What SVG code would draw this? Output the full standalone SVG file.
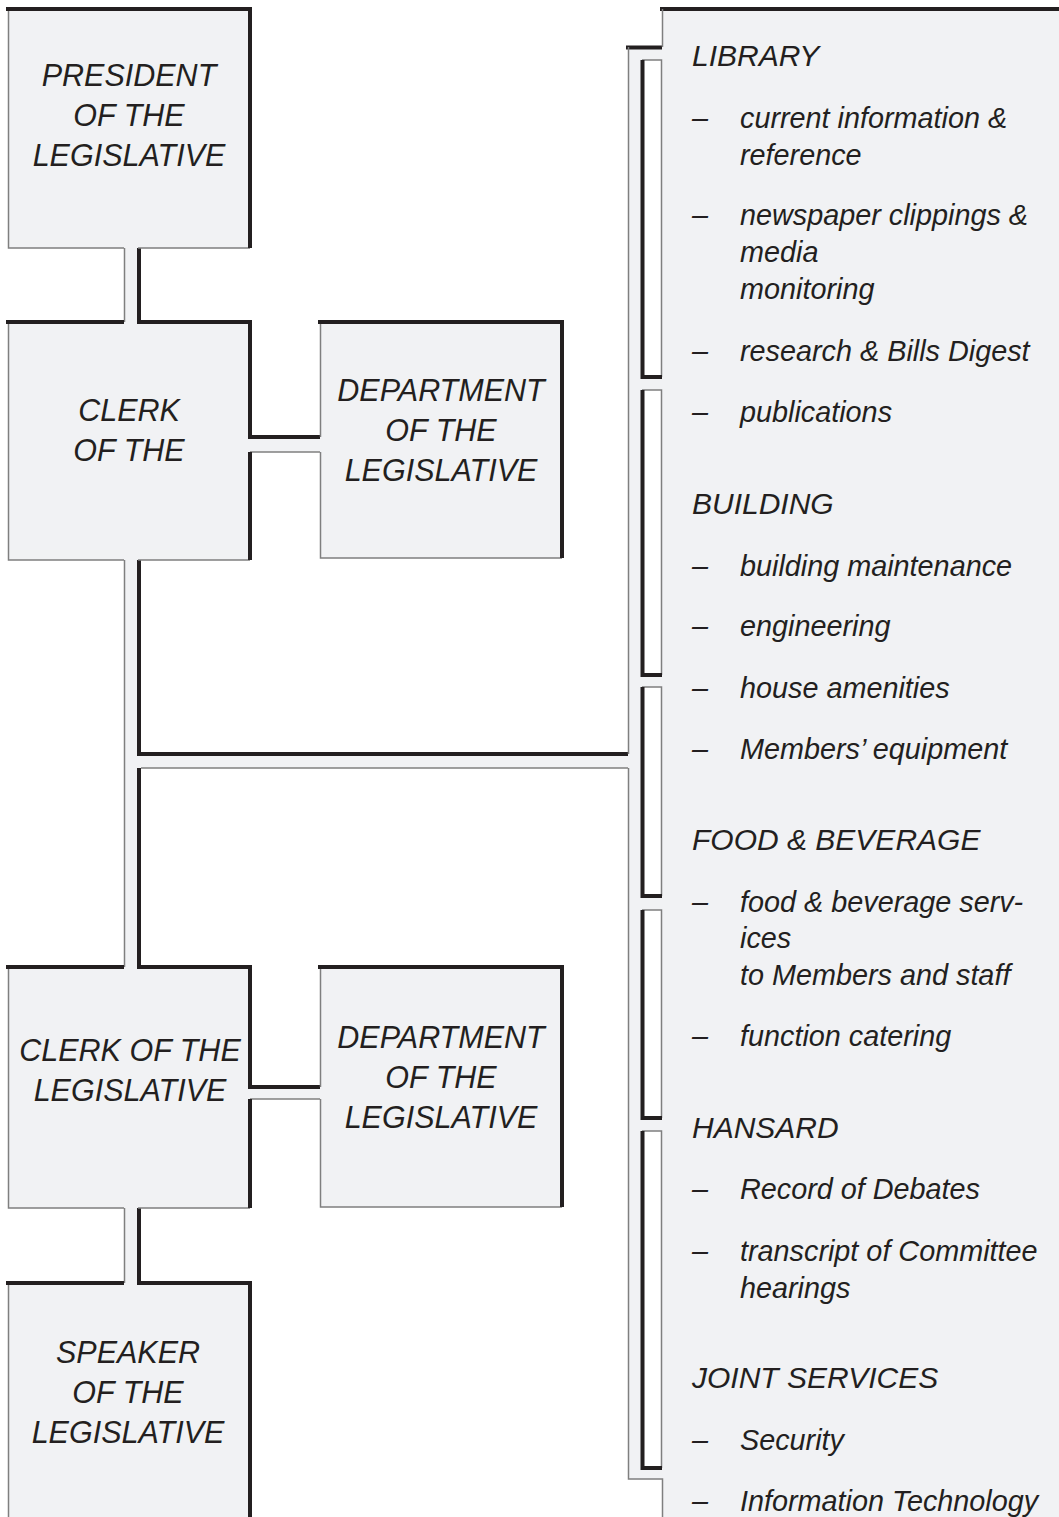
<svg xmlns="http://www.w3.org/2000/svg" width="1059" height="1517" viewBox="0 0 1059 1517">
<style>
.f{fill:#f1f2f4}
.w{fill:#ffffff}
.b{stroke:#231f20;stroke-width:4;fill:none}
.g{stroke:#7f7f7f;stroke-width:1.5;fill:none}
text{font-family:"Liberation Sans",Arial,sans-serif;font-style:italic;font-size:30px;fill:#231f20}
.c{text-anchor:middle;font-size:30.5px}
</style>
<rect width="1059" height="1517" fill="#ffffff"/>

<g id="connectors">
<rect class="f" x="124" y="247" width="13" height="76"/>
<path class="g" d="M124.5,248 V322"/>
<path class="b" d="M139,248 V322"/>
<rect class="f" x="249" y="439" width="72" height="13"/>
<path class="b" d="M248,437 H320"/>
<path class="g" d="M250,452 H320"/>
<rect class="f" x="124" y="559" width="13" height="409"/>
<rect class="f" x="137" y="756" width="492" height="12"/>
<path class="g" d="M124.5,560 V967"/>
<path class="b" d="M139,560 V754 H628"/>
<path class="b" d="M139,768 V967"/>
<path class="g" d="M141,768 H628"/>
<rect class="f" x="249" y="1089" width="72" height="10"/>
<path class="b" d="M248,1087 H320"/>
<path class="g" d="M250,1099 H320"/>
<rect class="f" x="124" y="1207" width="13" height="77"/>
<path class="g" d="M124.5,1208 V1283"/>
<path class="b" d="M139,1208 V1283"/>
</g>

<g id="president">
<rect class="f" x="8" y="9" width="242" height="239"/>
<path class="g" d="M8.5,9 V248 H124 M138,248 H250"/>
<path class="b" d="M6,9 H250 V248"/>
<text class="c" x="129" y="86">PRESIDENT</text>
<text class="c" x="129" y="126">OF THE</text>
<text class="c" x="129" y="166">LEGISLATIVE</text>
</g>

<g id="clerk1">
<rect class="f" x="8" y="322" width="242" height="238"/>
<path class="g" d="M8.5,322 V560 H124 M138,560 H250"/>
<path class="b" d="M6,322 H124 M137,322 H250 V439 M250,452 V560"/>
<text class="c" x="129" y="421">CLERK</text>
<text class="c" x="129" y="461">OF THE</text>
</g>

<g id="dept1">
<rect class="f" x="320" y="322" width="242" height="236"/>
<path class="g" d="M320.5,322 V437 M320.5,452 V558 H562"/>
<path class="b" d="M318,322 H562 V558"/>
<text class="c" x="441" y="401">DEPARTMENT</text>
<text class="c" x="441" y="441">OF THE</text>
<text class="c" x="441" y="481">LEGISLATIVE</text>
</g>

<g id="clerk2">
<rect class="f" x="8" y="967" width="242" height="241"/>
<path class="g" d="M8.5,967 V1208 H124 M138,1208 H250"/>
<path class="b" d="M6,967 H124 M137,967 H250 V1089 M250,1099 V1208"/>
<text class="c" x="130" y="1061">CLERK OF THE</text>
<text class="c" x="130" y="1101">LEGISLATIVE</text>
</g>

<g id="dept2">
<rect class="f" x="320" y="967" width="242" height="240"/>
<path class="g" d="M320.5,967 V1087 M320.5,1099 V1207 H562"/>
<path class="b" d="M318,967 H562 V1207"/>
<text class="c" x="441" y="1048">DEPARTMENT</text>
<text class="c" x="441" y="1088">OF THE</text>
<text class="c" x="441" y="1128">LEGISLATIVE</text>
</g>

<g id="speaker">
<rect class="f" x="8" y="1283" width="242" height="240"/>
<path class="g" d="M8.5,1283 V1517"/>
<path class="b" d="M6,1283 H124 M137,1283 H250 V1517"/>
<text class="c" x="128" y="1363">SPEAKER</text>
<text class="c" x="128" y="1403">OF THE</text>
<text class="c" x="128" y="1443">LEGISLATIVE</text>
</g>

<g id="services">
<rect class="f" x="662" y="9" width="400" height="1510"/>
<rect class="f" x="628" y="47" width="34" height="1432"/>
<path class="b" d="M660,9 H1059"/>
<path class="b" d="M626,47.5 H662"/>
<path class="g" d="M662.5,9 V47 M628.5,47 V754 M628.5,768 V1479 H662.5 V1517"/>
<rect class="w" x="642" y="60" width="20" height="317"/>
<path class="g" d="M642,60 H661.5 V377"/>
<path class="b" d="M642.5,60 V377 H662"/>
<rect class="w" x="642" y="390" width="20" height="285"/>
<path class="g" d="M642,390 H661.5 V675"/>
<path class="b" d="M642.5,390 V675 H662"/>
<rect class="w" x="642" y="687" width="20" height="209"/>
<path class="g" d="M642,687 H661.5 V896"/>
<path class="b" d="M642.5,687 V896 H662"/>
<rect class="w" x="642" y="910" width="20" height="208"/>
<path class="g" d="M642,910 H661.5 V1118"/>
<path class="b" d="M642.5,910 V1118 H662"/>
<rect class="w" x="642" y="1131" width="20" height="337"/>
<path class="g" d="M642,1131 H661.5 V1468"/>
<path class="b" d="M642.5,1131 V1468 H662"/>

<text x="692" y="66">LIBRARY</text>
<text x="692" y="514">BUILDING</text>
<text x="692" y="850">FOOD &amp; BEVERAGE</text>
<text x="692" y="1138">HANSARD</text>
<text x="692" y="1388">JOINT SERVICES</text>

<g transform="translate(692 0) scale(0.96 1)">
<text x="0" y="128">–</text>
<text x="0" y="225">–</text>
<text x="0" y="361">–</text>
<text x="0" y="422">–</text>
<text x="0" y="576">–</text>
<text x="0" y="636">–</text>
<text x="0" y="698">–</text>
<text x="0" y="759">–</text>
<text x="0" y="912">–</text>
<text x="0" y="1046">–</text>
<text x="0" y="1199">–</text>
<text x="0" y="1261">–</text>
<text x="0" y="1450">–</text>
<text x="0" y="1511">–</text>
</g>

<g transform="translate(740 0) scale(0.96 1)">
<text x="0" y="128">current information &amp;</text>
<text x="0" y="165">reference</text>
<text x="0" y="225">newspaper clippings &amp;</text>
<text x="0" y="262">media</text>
<text x="0" y="299">monitoring</text>
<text x="0" y="361">research &amp; Bills Digest</text>
<text x="0" y="422">publications</text>
<text x="0" y="576">building maintenance</text>
<text x="0" y="636">engineering</text>
<text x="0" y="698">house amenities</text>
<text x="0" y="759">Members’ equipment</text>
<text x="0" y="912">food &amp; beverage serv-</text>
<text x="0" y="948">ices</text>
<text x="0" y="985">to Members and staff</text>
<text x="0" y="1046">function catering</text>
<text x="0" y="1199">Record of Debates</text>
<text x="0" y="1261">transcript of Committee</text>
<text x="0" y="1298">hearings</text>
<text x="0" y="1450">Security</text>
<text x="0" y="1511">Information Technology</text>
</g>
</g>
</svg>
